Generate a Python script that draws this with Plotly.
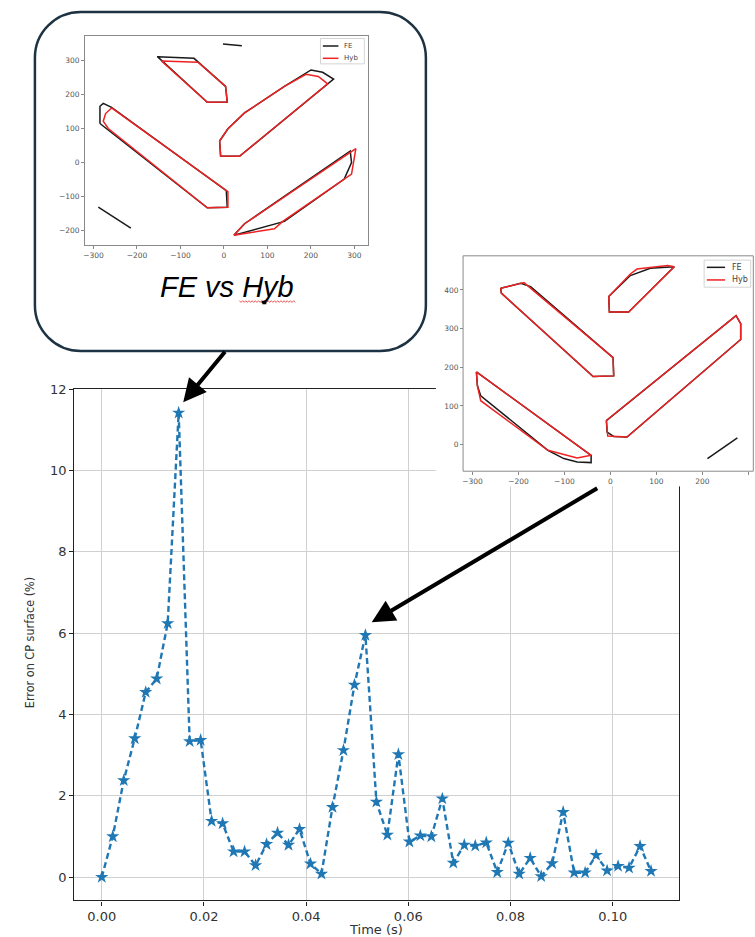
import plotly.graph_objects as go

W, H = 755, 937

# ---- main series: error on the CP surface over time ----
time_s = [0.0, 0.00215, 0.0043, 0.00645, 0.0086, 0.01075, 0.0129, 0.01505, 0.0172, 0.01935,
          0.0215, 0.02365, 0.0258, 0.02795, 0.0301, 0.03225, 0.0344, 0.03655, 0.0387, 0.04085,
          0.043, 0.04515, 0.0473, 0.04945, 0.0516, 0.05375, 0.0559, 0.05805, 0.0602, 0.06235,
          0.0645, 0.06665, 0.0688, 0.07095, 0.0731, 0.07525, 0.0774, 0.07955, 0.0817, 0.08385,
          0.086, 0.08815, 0.0903, 0.09245, 0.0946, 0.09675, 0.0989, 0.10105, 0.1032, 0.10535,
          0.1075]
error_pct = [0.00, 1.00, 2.38, 3.41, 4.55, 4.88, 6.24, 11.42, 3.34, 3.37,
             1.38, 1.32, 0.63, 0.63, 0.29, 0.81, 1.09, 0.79, 1.18, 0.33,
             0.08, 1.72, 3.12, 4.73, 5.95, 1.85, 1.04, 3.02, 0.87, 1.02,
             1.00, 1.93, 0.35, 0.79, 0.77, 0.85, 0.12, 0.84, 0.08, 0.47,
             0.02, 0.34, 1.60, 0.11, 0.11, 0.54, 0.16, 0.27, 0.23, 0.76,
             0.15]
x_ticks = [0.00, 0.02, 0.04, 0.06, 0.08, 0.10]
y_ticks = [0, 2, 4, 6, 8, 10, 12]

# ---- blade outlines at the first error peak (FE vs Hyb) ----
fe1_a = [(-152.9, 310.7), (-68.8, 305.8), (3.8, 223.3), (7.6, 177.7), (-38.2, 176.7), (-152.9, 310.7)]
hyb1_a = [(-143.7, 298.1), (-59.6, 294.2), (3.8, 223.3), (7.6, 177.7), (-38.2, 176.7), (-143.7, 298.1)]
fe1_b = [(-285.1, 114.6), (-285.1, 165.0), (-277.5, 173.8), (-258.4, 162.1), (5.4, -82.5),
         (7.6, -131.1), (-38.2, -133.0), (-285.1, 114.6)]
hyb1_b = [(-258.4, 160.2), (-272.1, 143.7), (-277.5, 121.4), (-266.0, 100.0), (-38.2, -133.0),
          (9.2, -131.1), (9.2, -85.4), (-258.4, 160.2)]
fe1_c = [(-9.9, 63.1), (-7.6, 19.4), (35.9, 18.4), (238.5, 231.1), (252.2, 244.7), (227.0, 265.0),
         (200.3, 271.8), (139.1, 223.3), (47.4, 145.6), (9.2, 99.0), (-9.9, 63.1)]
hyb1_c = [(-9.9, 63.1), (-7.6, 19.4), (35.9, 18.4), (238.5, 231.1), (217.1, 252.4), (188.8, 259.2),
          (139.1, 223.3), (47.4, 145.6), (9.2, 99.0), (-9.9, 63.1)]
fe1_d = [(22.9, -213.6), (47.4, -179.6), (290.5, 34.0), (293.5, 0.0), (276.7, -48.5),
         (139.1, -172.8), (22.9, -213.6)]
hyb1_d = [(22.9, -213.6), (47.4, -179.6), (303.4, 40.8), (293.5, -34.0), (135.3, -172.8),
          (116.2, -194.2), (22.9, -213.6)]
fe1_seg_top = [(-2.3, 347.6), (41.3, 342.7)]
fe1_seg_low = [(-288.9, -131.1), (-214.0, -192.2)]

# ---- blade outlines at the second error peak ----
fe2_e = [(-238.6, 404.3), (-237.2, 391.5), (-37.6, 176.1), (7.2, 177.8), (5.8, 224.8),
         (-173.5, 408.5), (-195.2, 417.1), (-238.6, 404.3)]
hyb2_e = [(-238.6, 404.3), (-237.2, 391.5), (-37.6, 176.1), (7.2, 177.8), (5.8, 224.8),
          (-184.4, 414.5), (-188.0, 418.8), (-238.6, 404.3)]
fe2_f = [(-3.6, 382.9), (-2.2, 342.7), (39.8, 342.7), (138.8, 459.8), (86.8, 455.6),
         (57.8, 444.4), (43.4, 437.0), (-3.6, 382.9)]
hyb2_f = [(-3.6, 382.9), (-2.2, 342.7), (39.8, 342.7), (138.8, 459.8), (124.4, 463.2),
          (57.8, 453.8), (43.4, 441.0), (-3.6, 382.9)]
fe2_g = [(-8.7, 62.4), (-7.2, 32.5), (7.2, 21.4), (36.2, 19.7), (283.4, 271.8), (283.4, 312.8),
         (273.3, 333.3), (0.0, 70.9), (-8.7, 62.4)]
hyb2_g = [(-8.7, 62.4), (-5.8, 22.2), (36.2, 19.7), (283.4, 271.8), (283.4, 312.8),
          (273.3, 333.3), (0.0, 70.9), (-8.7, 62.4)]
fe2_h = [(-291.4, 188.0), (-41.9, -27.4), (-41.9, -46.2), (-72.3, -44.4), (-101.2, -35.9),
         (-135.9, -14.5), (-282.0, 126.5), (-289.2, 152.1), (-291.4, 188.0)]
hyb2_h = [(-291.4, 188.0), (-41.9, -27.4), (-72.3, -34.2), (-135.9, -14.5), (-282.0, 113.7),
          (-289.2, 152.1), (-291.4, 188.0)]
fe2_seg = [(211.1, -35.9), (276.2, 17.9)]

FE_COLOR = "#1a1a1a"
HYB_COLOR = "#ee2222"


def X(px):
    return px / W


def Y(py):
    return 1 - py / H


fig = go.Figure()

# main error curve
fig.add_trace(go.Scatter(
    x=time_s, y=error_pct, mode="lines+markers",
    line=dict(color="#1f77b4", width=2.4, dash="6px,3.5px"),
    marker=dict(symbol="star", size=10, color="#1f77b4", line=dict(width=0)),
    showlegend=False, hoverinfo="x+y", xaxis="x", yaxis="y",
))


def add_outline(points, color, xa, ya):
    fig.add_trace(go.Scatter(
        x=[p[0] for p in points], y=[p[1] for p in points], mode="lines",
        line=dict(color=color, width=1.5), showlegend=False,
        hoverinfo="skip", xaxis=xa, yaxis=ya,
    ))


for pts in (fe1_a, fe1_b, fe1_c, fe1_d, fe1_seg_top, fe1_seg_low):
    add_outline(pts, FE_COLOR, "x2", "y2")
for pts in (hyb1_a, hyb1_b, hyb1_c, hyb1_d):
    add_outline(pts, HYB_COLOR, "x2", "y2")
for pts in (fe2_e, fe2_f, fe2_g, fe2_h, fe2_seg):
    add_outline(pts, FE_COLOR, "x3", "y3")
for pts in (hyb2_e, hyb2_f, hyb2_g, hyb2_h):
    add_outline(pts, HYB_COLOR, "x3", "y3")

tick_font = dict(family="DejaVu Sans", size=13, color="#333333")
small_font = dict(family="DejaVu Sans", size=7.5, color="#555555")

main_axis = dict(
    showgrid=True, gridcolor="#d0d0d0", gridwidth=1.3, zeroline=False,
    showline=True, linecolor="#222222", linewidth=1.3, mirror=True,
    ticks="outside", ticklen=4, tickcolor="#222222", tickwidth=1.2,
    tickfont=tick_font,
)
inset_axis = dict(
    showgrid=False, zeroline=False, ticks="outside", ticklen=3,
    tickcolor="#888888", tickwidth=1, tickfont=small_font,
)

fig.update_layout(
    width=W, height=H, margin=dict(l=0, r=0, t=0, b=0),
    paper_bgcolor="white", plot_bgcolor="white", showlegend=False,
    xaxis=dict(main_axis, domain=[X(72.5), X(678.3)], range=[-0.005375, 0.112875],
               tickvals=x_ticks, ticktext=[f"{v:.2f}" for v in x_ticks], anchor="y"),
    yaxis=dict(main_axis, domain=[Y(900.1), Y(385.0)], range=[-0.571, 12.002],
               tickvals=y_ticks, anchor="x"),
    xaxis2=dict(inset_axis, domain=[X(83.3), X(367.3)], range=[-319.3, 332.1],
                tickvals=[-300, -200, -100, 0, 100, 200, 300],
                showline=True, linecolor="#8a8a8a", linewidth=1, mirror=True, anchor="y2"),
    yaxis2=dict(inset_axis, domain=[Y(240.0), Y(29.0)], range=[-242.6, 372.0],
                tickvals=[-200, -100, 0, 100, 200, 300],
                showline=True, linecolor="#8a8a8a", linewidth=1, mirror=True, anchor="x2"),
    xaxis3=dict(inset_axis, domain=[X(435.0), 1.0], range=[-379.6, 314.5],
                tickvals=[-300, -200, -100, 0, 100, 200, 300],
                showline=False, anchor="free", position=Y(467.7)),
    yaxis3=dict(inset_axis, domain=[Y(483.0), Y(245.0)], range=[-107.7, 502.6],
                tickvals=[0, 100, 200, 300, 400],
                showline=False, anchor="free", position=X(462.3)),
)

shapes = []

# rounded callout box around the first snapshot
bx0, by0, bx1, by1, r = 33, 5, 425, 346.5, 46
k = 0.552 * r
box_path = (
    f"M {X(bx0 + r)},{Y(by0)} L {X(bx1 - r)},{Y(by0)} "
    f"C {X(bx1 - r + k)},{Y(by0)} {X(bx1)},{Y(by0 + r - k)} {X(bx1)},{Y(by0 + r)} "
    f"L {X(bx1)},{Y(by1 - r)} "
    f"C {X(bx1)},{Y(by1 - r + k)} {X(bx1 - r + k)},{Y(by1)} {X(bx1 - r)},{Y(by1)} "
    f"L {X(bx0 + r)},{Y(by1)} "
    f"C {X(bx0 + r - k)},{Y(by1)} {X(bx0)},{Y(by1 - r + k)} {X(bx0)},{Y(by1 - r)} "
    f"L {X(bx0)},{Y(by0 + r)} "
    f"C {X(bx0)},{Y(by0 + r - k)} {X(bx0 + r - k)},{Y(by0)} {X(bx0 + r)},{Y(by0)} Z"
)
shapes.append(dict(type="path", xref="paper", yref="paper", path=box_path,
                   line=dict(color="#1d3343", width=2.5), layer="above"))

# frame of the second snapshot
shapes.append(dict(type="rect", xref="paper", yref="paper",
                   x0=X(462.3), x1=X(753.3), y0=Y(467.7), y1=Y(250.7),
                   line=dict(color="#8a8a8a", width=1), layer="above"))


def legend_box(x0, y0, x1, y1, y_fe, y_hyb, lx0, lx1, tx, size):
    shapes.append(dict(type="rect", xref="paper", yref="paper",
                       x0=X(x0), x1=X(x1), y0=Y(y1), y1=Y(y0),
                       line=dict(color="#d4d4d4", width=1), fillcolor="white", layer="above"))
    for yy, col in ((y_fe, FE_COLOR), (y_hyb, HYB_COLOR)):
        shapes.append(dict(type="line", xref="paper", yref="paper",
                           x0=X(lx0), x1=X(lx1), y0=Y(yy), y1=Y(yy),
                           line=dict(color=col, width=1.5), layer="above"))
    anns = []
    for yy, label in ((y_fe, "FE"), (y_hyb, "Hyb")):
        anns.append(dict(x=X(tx), y=Y(yy), xref="paper", yref="paper", text=label,
                         showarrow=False, xanchor="left", yanchor="middle",
                         font=dict(family="DejaVu Sans", size=size, color="#444444")))
    return anns


annotations = []
annotations += legend_box(319.3, 31.7, 363.3, 57.3, 39.3, 51.7, 321.7, 337.3, 341.0, 7)
annotations += legend_box(704.0, 255.0, 750.7, 282.3, 262.3, 275.0, 706.7, 725.0, 730.0, 8)

# wavy spell-check underline beneath "Hyb"
wave = []
xw, up = 238.0, True
while xw <= 295.0:
    wave.append((xw, 295.9 if up else 297.6))
    xw += 1.6
    up = not up
wave_path = "M " + " L ".join(f"{X(a)},{Y(b)}" for a, b in wave)
shapes.append(dict(type="path", xref="paper", yref="paper", path=wave_path,
                   line=dict(color="#e53030", width=0.8), layer="above"))
shapes.append(dict(type="rect", xref="paper", yref="paper",
                   x0=X(261.0), x1=X(265.0), y0=Y(299.5), y1=Y(296.0),
                   line=dict(width=0), fillcolor="black", layer="above"))

fig.update_layout(shapes=shapes)

# caption, axis titles and the pointer arrows
annotations += [
    dict(x=X(225.5), y=Y(281.7), xref="paper", yref="paper", text="<i>FE vs Hyb</i>",
         showarrow=False, xanchor="center", yanchor="middle",
         font=dict(family="Liberation Sans", size=29, color="black")),
    dict(x=X(375.4), y=Y(929.0), xref="paper", yref="paper", text="Time (s)",
         showarrow=False, xanchor="center", yanchor="middle",
         font=dict(family="DejaVu Sans", size=13, color="#333333")),
    dict(x=X(27.0), y=Y(640.0), xref="paper", yref="paper", text="Error on CP surface (%)",
         showarrow=False, textangle=-90, xanchor="center", yanchor="middle",
         font=dict(family="DejaVu Sans Condensed, Liberation Sans Narrow, Liberation Sans",
                   size=12.5, color="#333333")),
    dict(x=X(181.7), y=Y(398.3), xref="paper", yref="paper", text="",
         showarrow=True, arrowhead=2, arrowsize=1.15, arrowwidth=4, arrowcolor="black",
         ax=43, ay=-52, axref="pixel", ayref="pixel", standoff=0),
    dict(x=X(370.7), y=Y(620.0), xref="paper", yref="paper", text="",
         showarrow=True, arrowhead=2, arrowsize=1.15, arrowwidth=4, arrowcolor="black",
         ax=227, ay=-135, axref="pixel", ayref="pixel", standoff=0),
]
fig.update_layout(annotations=annotations)

fig.write_html("out.html")
